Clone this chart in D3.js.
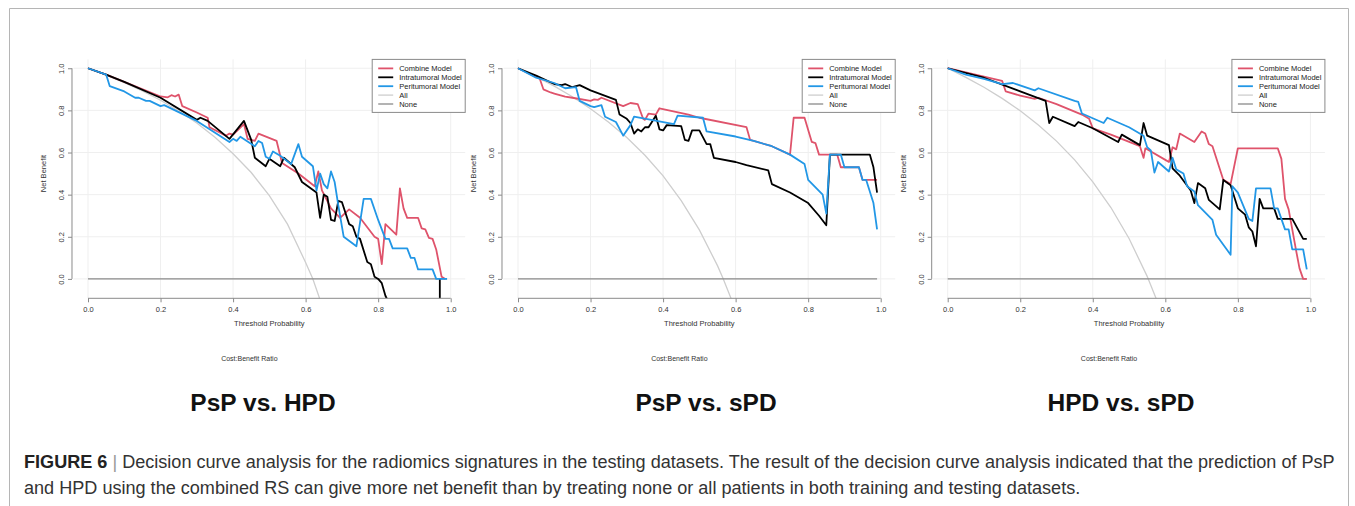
<!DOCTYPE html>
<html>
<head>
<meta charset="utf-8">
<script src="https://cdn.jsdelivr.net/npm/d3@7"></script>
<style>
  body { margin: 0; background: #fff; }
  svg { font-family: "Liberation Sans", Arial, sans-serif; display: block; }
</style>
</head>
<body>
<div id="fig"></div>
<script>
// panel titles and tick labels
var panelTitles = ["PsP vs. HPD", "PsP vs. sPD", "HPD vs. sPD"];
var xTicks = [0, 0.2, 0.4, 0.6, 0.8, 1.0];
var yTicks = [0, 0.2, 0.4, 0.6, 0.8, 1.0];
var seriesNames = ["Combine Model", "Intratumoral Model", "Peritumoral Model", "All", "None"];

// PsP vs. HPD  [threshold, net benefit]
var combine1 = [[0,1],[0.05,0.97],[0.1,0.935],[0.2,0.866],[0.22,0.862],[0.23,0.872],[0.24,0.866],[0.25,0.875],[0.26,0.82],[0.3,0.79],[0.33,0.765],[0.335,0.72],[0.38,0.68],[0.39,0.69],[0.4,0.685],[0.43,0.735],[0.44,0.665],[0.46,0.655],[0.47,0.69],[0.52,0.655],[0.535,0.55],[0.58,0.5],[0.625,0.44],[0.635,0.51],[0.645,0.42],[0.67,0.335],[0.695,0.29],[0.72,0.33],[0.75,0.29],[0.79,0.2],[0.80,0.19],[0.81,0.07],[0.82,0.26],[0.85,0.21],[0.86,0.43],[0.87,0.335],[0.88,0.29],[0.91,0.29],[0.92,0.24],[0.93,0.235],[0.94,0.195],[0.95,0.19],[0.96,0.14],[0.975,0.01],[0.985,0]];
var intra1 = [[0,1],[0.05,0.97],[0.1,0.935],[0.2,0.86],[0.3,0.755],[0.31,0.765],[0.33,0.75],[0.39,0.665],[0.43,0.75],[0.45,0.66],[0.46,0.575],[0.49,0.535],[0.5,0.57],[0.53,0.535],[0.54,0.575],[0.57,0.53],[0.59,0.46],[0.63,0.41],[0.64,0.29],[0.65,0.4],[0.66,0.39],[0.67,0.28],[0.68,0.275],[0.69,0.37],[0.7,0.365],[0.72,0.26],[0.73,0.25],[0.74,0.2],[0.75,0.19],[0.77,0.08],[0.78,0.07],[0.79,0.01],[0.8,0],[0.81,-0.02],[0.82,-0.08],[0.84,-0.15],[0.97,-0.2],[0.97,0]];
var peri1 = [[0,1],[0.05,0.97],[0.06,0.915],[0.1,0.89],[0.13,0.86],[0.14,0.86],[0.16,0.845],[0.17,0.845],[0.2,0.82],[0.21,0.825],[0.3,0.75],[0.39,0.65],[0.4,0.665],[0.41,0.655],[0.42,0.675],[0.46,0.63],[0.47,0.655],[0.48,0.645],[0.49,0.58],[0.5,0.57],[0.51,0.605],[0.53,0.585],[0.56,0.545],[0.58,0.64],[0.59,0.58],[0.62,0.535],[0.63,0.42],[0.64,0.5],[0.65,0.45],[0.66,0.43],[0.67,0.51],[0.68,0.46],[0.69,0.35],[0.705,0.2],[0.74,0.155],[0.76,0.38],[0.78,0.38],[0.8,0.28],[0.82,0.19],[0.83,0.19],[0.84,0.145],[0.88,0.145],[0.89,0.1],[0.9,0.1],[0.91,0.045],[0.95,0.045],[0.96,0],[0.99,0]];
var all1 = [[0,1],[0.05,0.967],[0.1,0.932],[0.15,0.892],[0.2,0.848],[0.25,0.797],[0.3,0.74],[0.35,0.672],[0.4,0.594],[0.45,0.505],[0.5,0.395],[0.55,0.26],[0.6,0.078],[0.62,0],[0.64,-0.1]];

// PsP vs. sPD
var combine2 = [[0,1],[0.06,0.95],[0.07,0.9],[0.09,0.885],[0.1,0.88],[0.13,0.865],[0.15,0.86],[0.2,0.845],[0.21,0.852],[0.22,0.85],[0.23,0.86],[0.29,0.82],[0.31,0.835],[0.33,0.83],[0.345,0.76],[0.35,0.755],[0.36,0.785],[0.38,0.78],[0.39,0.81],[0.47,0.78],[0.5,0.765],[0.63,0.72],[0.64,0.66],[0.7,0.63],[0.75,0.59],[0.76,0.765],[0.79,0.765],[0.81,0.65],[0.82,0.645],[0.83,0.59],[0.88,0.59],[0.89,0.53],[0.94,0.53],[0.95,0.47],[0.99,0.47]];
var intra2 = [[0,1],[0.05,0.965],[0.1,0.925],[0.12,0.92],[0.13,0.925],[0.15,0.91],[0.17,0.92],[0.2,0.895],[0.27,0.85],[0.28,0.78],[0.3,0.76],[0.31,0.74],[0.32,0.69],[0.33,0.71],[0.34,0.7],[0.35,0.72],[0.36,0.72],[0.38,0.775],[0.39,0.71],[0.4,0.705],[0.41,0.73],[0.45,0.725],[0.46,0.66],[0.47,0.655],[0.48,0.705],[0.5,0.705],[0.52,0.64],[0.53,0.64],[0.54,0.575],[0.6,0.555],[0.63,0.54],[0.69,0.515],[0.7,0.45],[0.75,0.41],[0.8,0.36],[0.83,0.3],[0.85,0.255],[0.86,0.59],[0.97,0.59],[0.98,0.53],[0.99,0.41]];
var peri2 = [[0,1],[0.05,0.955],[0.1,0.93],[0.13,0.905],[0.16,0.91],[0.17,0.845],[0.2,0.82],[0.21,0.815],[0.23,0.825],[0.24,0.77],[0.27,0.745],[0.29,0.68],[0.31,0.73],[0.32,0.77],[0.43,0.735],[0.44,0.775],[0.51,0.765],[0.52,0.7],[0.6,0.676],[0.65,0.655],[0.7,0.63],[0.75,0.59],[0.79,0.545],[0.8,0.47],[0.84,0.4],[0.85,0.31],[0.86,0.59],[0.89,0.59],[0.9,0.53],[0.94,0.53],[0.95,0.47],[0.96,0.47],[0.98,0.36],[0.99,0.235]];
var all2 = [[0,1],[0.05,0.96],[0.1,0.915],[0.15,0.865],[0.2,0.808],[0.25,0.744],[0.3,0.671],[0.35,0.587],[0.4,0.489],[0.45,0.372],[0.5,0.233],[0.55,0.063],[0.566,0],[0.59,-0.104]];

// HPD vs. sPD
var combine3 = [[0,1],[0.1,0.96],[0.15,0.94],[0.16,0.89],[0.2,0.87],[0.24,0.855],[0.25,0.86],[0.3,0.83],[0.37,0.78],[0.39,0.76],[0.4,0.715],[0.45,0.685],[0.53,0.63],[0.54,0.575],[0.545,0.62],[0.6,0.565],[0.61,0.555],[0.62,0.625],[0.63,0.615],[0.64,0.69],[0.68,0.65],[0.7,0.7],[0.71,0.69],[0.72,0.64],[0.73,0.63],[0.76,0.47],[0.78,0.45],[0.8,0.62],[0.91,0.62],[0.92,0.57],[0.93,0.38],[0.94,0.33],[0.96,0.14],[0.97,0.05],[0.98,0],[0.99,0]];
var intra3 = [[0,1],[0.1,0.955],[0.2,0.89],[0.27,0.845],[0.28,0.74],[0.29,0.77],[0.35,0.725],[0.36,0.745],[0.4,0.715],[0.47,0.65],[0.48,0.685],[0.53,0.635],[0.54,0.74],[0.55,0.68],[0.61,0.635],[0.62,0.525],[0.64,0.49],[0.67,0.42],[0.68,0.36],[0.69,0.455],[0.71,0.43],[0.72,0.375],[0.75,0.33],[0.76,0.47],[0.78,0.445],[0.8,0.335],[0.82,0.305],[0.83,0.245],[0.84,0.225],[0.85,0.155],[0.86,0.38],[0.87,0.335],[0.9,0.335],[0.91,0.285],[0.95,0.285],[0.98,0.19],[0.99,0.19]];
var peri3 = [[0,1],[0.05,0.97],[0.1,0.95],[0.15,0.925],[0.18,0.93],[0.24,0.895],[0.25,0.905],[0.35,0.845],[0.36,0.84],[0.37,0.785],[0.43,0.74],[0.44,0.765],[0.5,0.72],[0.54,0.68],[0.55,0.625],[0.56,0.61],[0.57,0.505],[0.58,0.555],[0.61,0.51],[0.62,0.575],[0.63,0.52],[0.65,0.5],[0.66,0.44],[0.68,0.415],[0.69,0.35],[0.73,0.28],[0.74,0.21],[0.78,0.115],[0.785,0.44],[0.8,0.41],[0.83,0.285],[0.84,0.275],[0.85,0.43],[0.89,0.43],[0.9,0.335],[0.91,0.335],[0.93,0.235],[0.94,0.235],[0.95,0.14],[0.98,0.14],[0.99,0.045]];
var all3 = [[0,1],[0.05,0.957],[0.1,0.91],[0.15,0.857],[0.2,0.798],[0.25,0.731],[0.3,0.654],[0.35,0.565],[0.4,0.461],[0.45,0.339],[0.5,0.192],[0.55,0.012],[0.553,0],[0.58,-0.116]];

var none = [[0,0],[0.99,0]];

var panels = [
  {title: panelTitles[0], combine: combine1, intra: intra1, peri: peri1, all: all1, x0: 88},
  {title: panelTitles[1], combine: combine2, intra: intra2, peri: peri2, all: all2, x0: 518},
  {title: panelTitles[2], combine: combine3, intra: intra3, peri: peri3, all: all3, x0: 947.7}
];

var colors = {combine: "#DF536B", intra: "#000000", peri: "#2297E6", all: "#cecece", none: "#8a8a8a"};

var W = 1355, H = 506;
var svg = d3.select("#fig").append("svg")
    .attr("width", W)
    .attr("height", H);

// frame
svg.append("path")
    .attr("d", "M9.5,506 V8.5 H1348.5 V506")
    .attr("fill", "none")
    .attr("stroke", "#b5b5b5")
    .attr("stroke-width", 1);

var unit = 362.7;
var y = d3.scaleLinear().domain([-0.092, 1.042]).range([298.3, 59.4]);

panels.forEach(function (p, i) {
    var x = d3.scaleLinear().domain([-0.04, 1.04]).range([p.x0 - 0.04 * unit, p.x0 + 1.04 * unit]);
    var g = svg.append("g");
    var left = x(-0.04), right = x(1.04);

    // grid
    g.selectAll(".vg").data(xTicks).enter().append("line")
        .attr("x1", function (d) { return x(d); }).attr("x2", function (d) { return x(d); })
        .attr("y1", y(1.042)).attr("y2", y(-0.092))
        .attr("stroke", "#efefef").attr("stroke-width", 1);
    g.selectAll(".hg").data(yTicks).enter().append("line")
        .attr("x1", left).attr("x2", right)
        .attr("y1", function (d) { return y(d); }).attr("y2", function (d) { return y(d); })
        .attr("stroke", "#efefef").attr("stroke-width", 1);

    var clipId = "clip" + i;
    svg.append("clipPath").attr("id", clipId).append("rect")
        .attr("x", left).attr("y", y(1.042)).attr("width", right - left).attr("height", y(-0.092) - y(1.042));

    var line = d3.line()
        .x(function (d) { return x(d[0]); })
        .y(function (d) { return y(d[1]); });

    var lines = g.append("g").attr("clip-path", "url(#" + clipId + ")");
    lines.append("path").datum(p.all).attr("d", line)
        .attr("fill", "none").attr("stroke", colors.all).attr("stroke-width", 1.3);
    lines.append("path").datum(none).attr("d", line)
        .attr("fill", "none").attr("stroke", colors.none).attr("stroke-width", 1.3);
    // draw order: combine, intra, peri
    [["combine", p.combine], ["intra", p.intra], ["peri", p.peri]].forEach(function (s) {
        lines.append("path").datum(s[1]).attr("d", line)
            .attr("fill", "none").attr("stroke", colors[s[0]])
            .attr("stroke-width", 1.8).attr("stroke-linejoin", "round");
    });

    // x axis
    var xa = g.append("g")
        .attr("transform", "translate(0," + y(-0.092) + ")")
        .call(d3.axisBottom(x).tickValues(xTicks).tickFormat(d3.format(".1f")).tickSize(4).tickSizeOuter(0));
    xa.select(".domain").attr("stroke", "#8a8a8a").attr("d", "M" + x(0) + ",0H" + x(1));
    xa.selectAll(".tick line").attr("stroke", "#8a8a8a");
    xa.selectAll(".tick text").attr("font-size", 7.5).attr("fill", "#333").attr("dy", "0.9em").attr("font-family", "Liberation Sans, Arial, sans-serif");

    // y axis
    var ya = g.append("g")
        .attr("transform", "translate(" + (left - 1.5) + ",0)")
        .call(d3.axisLeft(y).tickValues(yTicks).tickFormat(d3.format(".1f")).tickSize(4).tickSizeOuter(0));
    ya.select(".domain").attr("stroke", "#8a8a8a").attr("d", "M0," + y(0) + "V" + y(1));
    ya.selectAll(".tick line").attr("stroke", "#8a8a8a");
    ya.selectAll(".tick text")
        .attr("font-size", 7.5).attr("fill", "#333").attr("font-family", "Liberation Sans, Arial, sans-serif")
        .attr("x", null).attr("dy", null)
        .attr("text-anchor", "middle")
        .attr("transform", "translate(-8,0) rotate(-90)");

    // axis titles
    g.append("text")
        .attr("x", (x(0) + x(1)) / 2).attr("y", 326)
        .attr("text-anchor", "middle").attr("font-size", 7.5).attr("fill", "#333")
        .text("Threshold Probability");
    g.append("text")
        .attr("transform", "translate(" + (left - 27) + "," + ((y(0) + y(1)) / 2) + ") rotate(-90)")
        .attr("text-anchor", "middle").attr("font-size", 7.5).attr("fill", "#333")
        .text("Net Benefit");
    g.append("text")
        .attr("x", (x(0) + x(1)) / 2 - 20).attr("y", 361)
        .attr("text-anchor", "middle").attr("font-size", 7).attr("fill", "#333")
        .text("Cost:Benefit Ratio");

    // legend, top right of the plot region
    var lw = 93, lh = 53;
    var lg = g.append("g").attr("transform", "translate(" + (right - lw) + "," + y(1.042) + ")");
    lg.append("rect").attr("width", lw).attr("height", lh)
        .attr("fill", "#fff").attr("stroke", "#8a8a8a").attr("stroke-width", 1);
    var legCols = [colors.combine, colors.intra, colors.peri, colors.all, colors.none];
    seriesNames.forEach(function (name, k) {
        var yy = 9 + k * 8.9;
        lg.append("line").attr("x1", 6).attr("x2", 21).attr("y1", yy).attr("y2", yy)
            .attr("stroke", legCols[k]).attr("stroke-width", k < 3 ? 1.8 : 1.3);
        lg.append("text").attr("x", 27).attr("y", yy).attr("dy", "0.35em")
            .attr("font-size", 7.5).attr("fill", "#222").text(name);
    });

    // panel title
    var tx = [263, 706, 1121][i];
    g.append("text")
        .attr("x", tx).attr("y", 411)
        .attr("text-anchor", "middle").attr("font-size", 24.5).attr("font-weight", "bold").attr("fill", "#111")
        .text(p.title);
});

// caption
var cap1 = svg.append("text").attr("x", 24).attr("y", 468).attr("font-size", 16).attr("fill", "#333");
cap1.append("tspan").attr("font-weight", "bold").attr("fill", "#222").text("FIGURE 6");
cap1.append("tspan").attr("fill", "#999").text(" | ");
cap1.append("tspan").text("Decision curve analysis for the radiomics signatures in the testing datasets. The result of the decision curve analysis indicated that the prediction of PsP");
var cap2 = svg.append("text").attr("x", 24).attr("y", 494).attr("font-size", 16).attr("fill", "#333")
    .text("and HPD using the combined RS can give more net benefit than by treating none or all patients in both training and testing datasets.");
var w1 = cap1.node().getComputedTextLength();
var fs = 16 * 1311 / w1;
cap1.attr("font-size", fs);
cap2.attr("font-size", fs);
</script>
</body>
</html>
